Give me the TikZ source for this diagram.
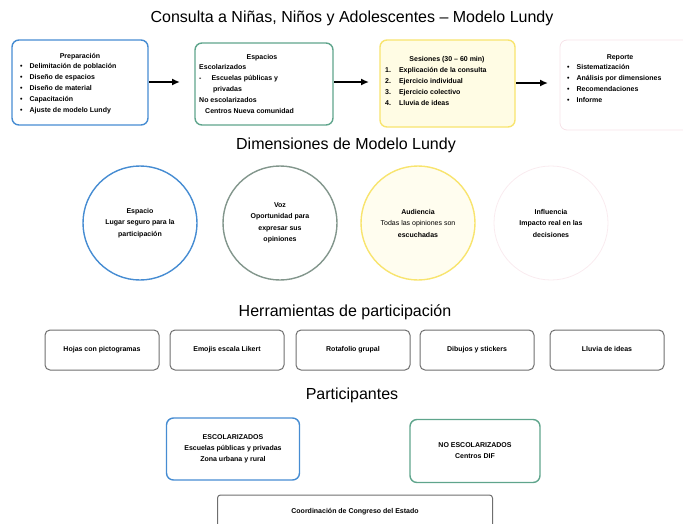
\documentclass[tikz,border=0pt]{standalone}
\usepackage{fontspec}
\setmainfont{Liberation Sans}
\usetikzlibrary{arrows.meta}

\definecolor{azul}{RGB}{70,140,210}
\definecolor{verde}{RGB}{95,165,140}
\definecolor{amarillo}{RGB}{248,228,110}
\definecolor{crema}{RGB}{255,252,228}
\definecolor{rosa}{RGB}{246,226,232}
\definecolor{gris}{RGB}{110,110,110}

\begin{document}
\begin{tikzpicture}[x=1pt,y=-1pt,
        every node/.append style={font=\fontsize{7}{11}\selectfont\bfseries,inner sep=0pt},
        caja/.style={draw,rounded corners=7pt,line width=1.4pt},
        lista/.style={anchor=north west,align=left},
        circulo/.style={draw,circle,line width=1.4pt,minimum size=114pt,align=center,
            font=\fontsize{7}{11.5}\selectfont\bfseries},
        herr/.style={draw=gris,rounded corners=5pt,line width=1pt,minimum width=114pt,
            minimum height=40pt,text height=5pt,text depth=1.5pt},
        titulo/.style={font=\fontsize{16}{18}\selectfont},
        flecha/.style={-{Latex[length=8pt,width=7pt]},line width=1.8pt}
    ]
        \useasboundingbox (0,0) rectangle (683,523);
        \node[titulo] (T1) at (352, 18) {Consulta a Niñas, Niños y Adolescentes -- Modelo Lundy};
        % etapas
        \draw[caja,azul] (12,40) rectangle (148,125);
        \draw[caja,verde] (195,43) rectangle (333,125);
        \draw[caja,amarillo,fill=crema] (380,40) rectangle (515,127);
        \draw[caja,rosa,line width=0.8pt] (560,40) rectangle (690,130);
        \node (A0) at (80, 57) {Preparación};
        \node[lista] (A) at (20, 63) {\textbullet\hspace{7pt}Delimitación de población\\
            \textbullet\hspace{7pt}Diseño de espacios\\
            \textbullet\hspace{7pt}Diseño de material\\
            \textbullet\hspace{7pt}Capacitación\\
            \textbullet\hspace{7pt}Ajuste de modelo Lundy};
        \node (B0) at (262, 58) {Espacios};
        \node[lista] (B) at (199, 64) {Escolarizados\\
            -\hspace{10pt}Escuelas públicas y\\
            \hspace*{14pt}privadas\\
            No escolarizados\\
            \hspace*{6pt}Centros Nueva comunidad};
        \node (C0) at (447, 60) {Sesiones (30 -- 60 min)};
        \node[lista] (C) at (385, 67) {1.\hspace{8pt}Explicación de la consulta\\
            2.\hspace{8pt}Ejercicio individual\\
            3.\hspace{8pt}Ejercicio colectivo\\
            4.\hspace{8pt}Lluvia de ideas};
        \node (D0) at (620, 58) {Reporte};
        \node[lista] (D) at (567, 64) {\textbullet\hspace{7pt}Sistematización\\
            \textbullet\hspace{7pt}Análisis por dimensiones\\
            \textbullet\hspace{7pt}Recomendaciones\\
            \textbullet\hspace{7pt}Informe};
        \coordinate (a1) at (149, 82);
        \coordinate (b0) at (180, 82);
        \coordinate (b1) at (334, 82);
        \coordinate (c0) at (369, 82);
        \coordinate (c1) at (516, 83);
        \coordinate (d0) at (548, 83);
        \draw[flecha] (a1) -- (b0);
        \draw[flecha] (b1) -- (c0);
        \draw[flecha] (c1) -- (d0);
        % dimensiones
        \node[titulo] (T2) at (346, 145) {Dimensiones de Modelo Lundy};
        \node[circulo,azul,text=black] (E) at (140, 223) {Espacio\\Lugar seguro para la\\participación};
        \node[circulo,draw={rgb,255:red,130;green,150;blue,140},text=black] (V) at (280, 223) {Voz\\Oportunidad para\\expresar sus\\opiniones};
        \node[circulo,amarillo,fill=crema!60,text=black] (Au) at (418, 223) {Audiencia\\\textmd{Todas las opiniones son}\\escuchadas};
        \node[circulo,draw=rosa!70,line width=0.8pt] (I) at (551, 223) {Influencia\\Impacto real en las\\decisiones};
        % herramientas
        \node[titulo] (T3) at (345, 312) {Herramientas de participación};
        \node[herr] (H1) at (102, 350) {Hojas con pictogramas};
        \node[herr] (H2) at (227, 350) {Emojis escala Likert};
        \node[herr] (H3) at (353, 350) {Rotafolio grupal};
        \node[herr] (H4) at (477, 350) {Dibujos y stickers};
        \node[herr] (H5) at (607, 350) {Lluvia de ideas};
        % participantes
        \node[titulo] (T4) at (352, 395) {Participantes};
        \node[caja,azul,text=black,align=center,minimum width=133pt,minimum height=62pt] (P1) at (233, 449) {ESCOLARIZADOS\\Escuelas públicas y privadas\\Zona urbana y rural};
        \node[caja,verde,text=black,align=center,minimum width=130pt,minimum height=63pt] (P2) at (475, 451) {NO ESCOLARIZADOS\\Centros DIF};
        \node[draw=gris,line width=1pt,rounded corners=3pt,minimum width=275pt,minimum height=34pt] (P3) at (355, 512) {Coordinación de Congreso del Estado};
    \end{tikzpicture}
\end{document}
